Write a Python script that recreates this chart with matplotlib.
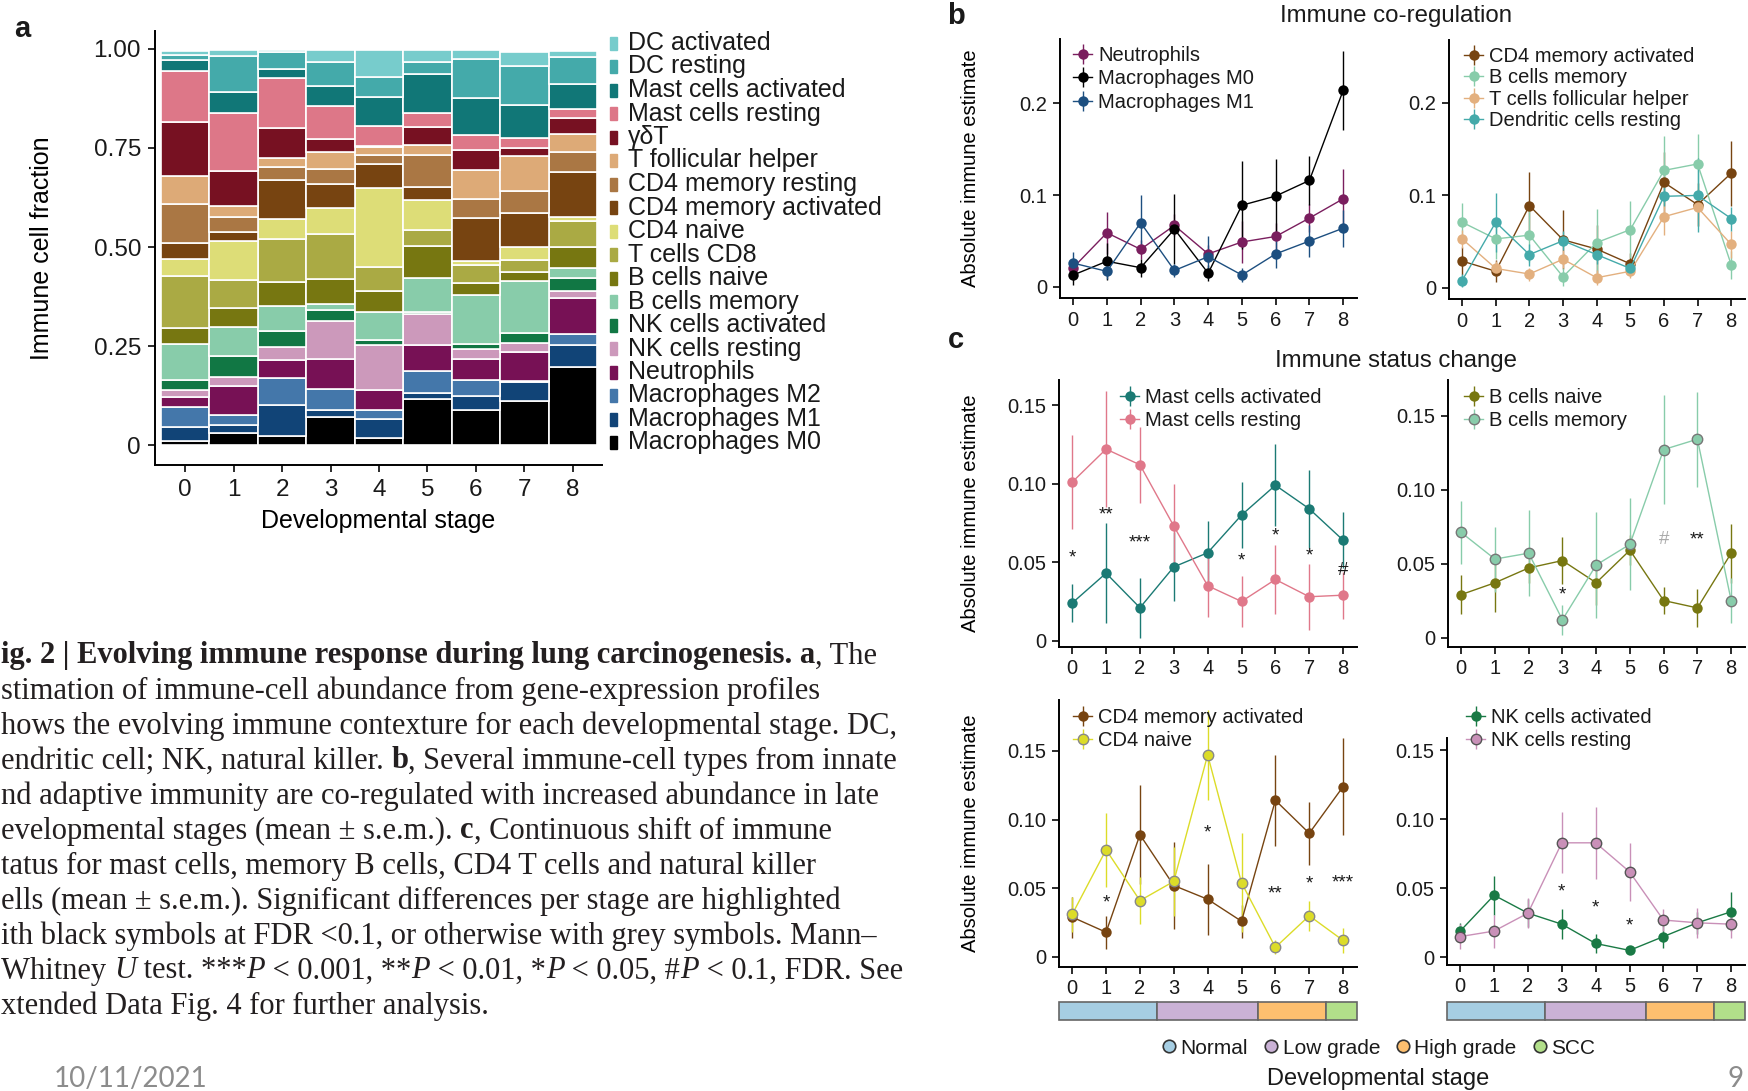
import matplotlib
matplotlib.use('Agg')
import matplotlib.pyplot as plt
from matplotlib.patches import Rectangle
from matplotlib.lines import Line2D

plt.rcParams['font.family'] = ['Liberation Sans', 'DejaVu Sans']
plt.rcParams['axes.linewidth'] = 1.4
plt.rcParams['text.color'] = '#1a1a1a'

# ---- data -------------------------------------------------------------
stages = [0, 1, 2, 3, 4, 5, 6, 7, 8]
stage_group = ['Normal'] * 3 + ['Low grade'] * 3 + ['High grade'] * 2 + ['SCC']
groups = ['Normal', 'Low grade', 'High grade', 'SCC']
group_colors = ['#a6cee3', '#cab2d6', '#fdbf6f', '#b2df8a']

# panel a: immune cell fractions per stage (bottom -> top of the stack)
mac_m0 = [0.010, 0.030, 0.022, 0.072, 0.018, 0.117, 0.090, 0.111, 0.197]
mac_m1 = [0.035, 0.021, 0.080, 0.018, 0.048, 0.014, 0.035, 0.048, 0.057]
mac_m2 = [0.052, 0.025, 0.067, 0.052, 0.024, 0.056, 0.040, 0.004, 0.027]
neutro = [0.025, 0.074, 0.046, 0.076, 0.050, 0.065, 0.053, 0.071, 0.090]
nk_rest_f = [0.018, 0.021, 0.032, 0.095, 0.114, 0.078, 0.025, 0.024, 0.019]
nk_act_f = [0.025, 0.055, 0.040, 0.029, 0.011, 0.005, 0.013, 0.024, 0.031]
b_mem_f = [0.090, 0.071, 0.065, 0.015, 0.071, 0.087, 0.124, 0.133, 0.025]
b_naive_f = [0.040, 0.049, 0.059, 0.063, 0.052, 0.080, 0.028, 0.023, 0.055]
t_cd8 = [0.132, 0.071, 0.109, 0.114, 0.061, 0.040, 0.046, 0.029, 0.064]
cd4_naive_f = [0.043, 0.098, 0.050, 0.065, 0.200, 0.077, 0.010, 0.033, 0.010]
cd4_mact_f = [0.040, 0.024, 0.098, 0.061, 0.061, 0.032, 0.109, 0.086, 0.115]
cd4_mrest = [0.098, 0.036, 0.035, 0.038, 0.023, 0.082, 0.049, 0.056, 0.049]
t_fh = [0.071, 0.028, 0.022, 0.042, 0.019, 0.025, 0.073, 0.087, 0.046]
gd_t = [0.137, 0.088, 0.076, 0.033, 0.003, 0.045, 0.051, 0.021, 0.040]
mast_rest_f = [0.129, 0.147, 0.126, 0.082, 0.050, 0.034, 0.037, 0.024, 0.023]
mast_act_f = [0.027, 0.052, 0.021, 0.052, 0.073, 0.100, 0.093, 0.084, 0.063]
dc_rest_f = [0.013, 0.093, 0.045, 0.061, 0.051, 0.031, 0.099, 0.098, 0.069]
dc_act_f = [0.010, 0.013, 0.003, 0.028, 0.069, 0.028, 0.021, 0.036, 0.015]

cell_names = ['Macrophages M0', 'Macrophages M1', 'Macrophages M2', 'Neutrophils',
              'NK cells resting', 'NK cells activated', 'B cells memory', 'B cells naive',
              'T cells CD8', 'CD4 naive', 'CD4 memory activated', 'CD4 memory resting',
              'T follicular helper', 'γδT', 'Mast cells resting', 'Mast cells activated',
              'DC resting', 'DC activated']
cell_fracs = [mac_m0, mac_m1, mac_m2, neutro, nk_rest_f, nk_act_f, b_mem_f, b_naive_f,
              t_cd8, cd4_naive_f, cd4_mact_f, cd4_mrest, t_fh, gd_t, mast_rest_f,
              mast_act_f, dc_rest_f, dc_act_f]
cell_colors = ['#000000', '#114477', '#4477aa', '#771155', '#cc99bb', '#117744',
               '#88ccaa', '#777711', '#aaaa44', '#dddd77', '#774411', '#aa7744',
               '#ddaa77', '#771122', '#dd7788', '#117777', '#44aaaa', '#77cccc']

# panel b / c: absolute immune estimates (mean and s.e.m.)
neut = [0.021, 0.059, 0.041, 0.067, 0.036, 0.049, 0.055, 0.075, 0.096]
neut_err = [0.008, 0.023, 0.010, 0.012, 0.010, 0.023, 0.015, 0.015, 0.033]
m0 = [0.013, 0.028, 0.021, 0.063, 0.015, 0.089, 0.099, 0.116, 0.214]
m0_err = [0.011, 0.020, 0.010, 0.038, 0.009, 0.048, 0.040, 0.027, 0.043]
m1 = [0.026, 0.017, 0.070, 0.018, 0.033, 0.013, 0.036, 0.050, 0.064]
m1_err = [0.012, 0.008, 0.030, 0.007, 0.023, 0.008, 0.015, 0.017, 0.020]

cd4_mact = [0.029, 0.018, 0.089, 0.052, 0.042, 0.026, 0.114, 0.090, 0.124]
cd4_mact_err = [0.015, 0.012, 0.036, 0.032, 0.026, 0.012, 0.033, 0.023, 0.035]
b_mem = [0.071, 0.053, 0.057, 0.012, 0.049, 0.063, 0.127, 0.134, 0.025]
b_mem_err = [0.021, 0.022, 0.029, 0.010, 0.036, 0.031, 0.037, 0.032, 0.015]
tfh = [0.053, 0.021, 0.015, 0.031, 0.011, 0.018, 0.077, 0.087, 0.047]
tfh_err = [0.010, 0.008, 0.007, 0.010, 0.008, 0.007, 0.020, 0.020, 0.015]
dc_rest = [0.008, 0.071, 0.036, 0.051, 0.036, 0.021, 0.099, 0.100, 0.075]
dc_rest_err = [0.007, 0.032, 0.012, 0.010, 0.010, 0.007, 0.010, 0.040, 0.013]

mast_act = [0.024, 0.043, 0.021, 0.047, 0.056, 0.080, 0.099, 0.084, 0.064]
mast_act_err = [0.012, 0.032, 0.019, 0.022, 0.020, 0.021, 0.026, 0.025, 0.018]
mast_rest = [0.101, 0.122, 0.112, 0.073, 0.035, 0.025, 0.039, 0.028, 0.029]
mast_rest_err = [0.030, 0.037, 0.024, 0.027, 0.020, 0.016, 0.022, 0.021, 0.015]
b_naive = [0.029, 0.037, 0.047, 0.052, 0.037, 0.059, 0.025, 0.020, 0.057]
b_naive_err = [0.013, 0.020, 0.010, 0.016, 0.015, 0.010, 0.009, 0.013, 0.020]
cd4_naive = [0.031, 0.078, 0.041, 0.055, 0.147, 0.054, 0.007, 0.030, 0.012]
cd4_naive_err = [0.013, 0.027, 0.017, 0.025, 0.033, 0.036, 0.005, 0.011, 0.009]
nk_act = [0.019, 0.045, 0.032, 0.024, 0.010, 0.005, 0.015, 0.025, 0.033]
nk_act_err = [0.006, 0.014, 0.010, 0.011, 0.007, 0.002, 0.008, 0.008, 0.014]
nk_rest = [0.015, 0.019, 0.032, 0.083, 0.083, 0.062, 0.027, 0.025, 0.024]
nk_rest_err = [0.009, 0.012, 0.011, 0.022, 0.026, 0.021, 0.008, 0.011, 0.010]

# significance symbols per stage ('' = none), their heights, and grey (non-FDR) ones
sig_mast = ['*', '**', '***', '', '', '*', '*', '*', '#']
sig_mast_y = [0.053, 0.080, 0.062, 0, 0, 0.051, 0.067, 0.054, 0.045]
sig_b = ['', '', '', '*', '', '', '#', '**', '']
sig_b_y = [0, 0, 0, 0.029, 0, 0, 0.066, 0.066, 0]
sig_b_grey = [6]
sig_cd4 = ['', '*', '', '', '*', '', '**', '*', '***']
sig_cd4_y = [0, 0.039, 0, 0, 0.090, 0, 0.046, 0.053, 0.054]
sig_nk = ['', '', '', '*', '*', '*', '', '', '']
sig_nk_y = [0, 0, 0, 0.047, 0.036, 0.023, 0, 0, 0]

# ---- layout helpers (pixel boxes of the 1748x1091 canvas) --------------
W, H = 1748, 1091
fig = plt.figure(figsize=(W / 100, H / 100), dpi=100)


def box(l, t, r, b):
    return [l / W, 1 - b / H, (r - l) / W, (b - t) / H]


def fx(x):
    return x / W


def fy(y):
    return 1 - y / H


def clean(ax, size):
    ax.spines[['top', 'right']].set_visible(False)
    ax.tick_params(direction='out', length=5, width=1.3, labelsize=size,
                   colors='#1a1a1a', pad=4)


# ---- panel a ------------------------------------------------------------
axa = fig.add_axes(box(155, 31, 602, 465))
bottom = [0.0] * len(stages)
for vals, col in zip(cell_fracs, cell_colors):
    axa.bar(stages, vals, width=1.0, bottom=bottom, color=col,
            edgecolor='white', linewidth=1.2)
    bottom = [b + v for b, v in zip(bottom, vals)]
axa.set_xlim(-0.62, 8.6)
axa.set_ylim(-0.05, 1.045)
axa.set_xticks(stages)
axa.set_yticks([0, 0.25, 0.5, 0.75, 1.0])
axa.set_yticklabels(['0', '0.25', '0.50', '0.75', '1.00'])
clean(axa, 17.5)
axa.tick_params(pad=5)
axa.set_ylabel('Immune cell fraction', fontsize=18)
axa.yaxis.set_label_coords(-0.226, 0.5)
axa.set_xlabel('Developmental stage', fontsize=18)
axa.xaxis.set_label_coords(0.5, -0.102)

# legend of panel a, top entry first
for i, (name, col) in enumerate(zip(cell_names[::-1], cell_colors[::-1])):
    yc = 43 + i * 23.5
    fig.patches.append(Rectangle((fx(610), fy(yc + 6.5)), 7 / W, 13 / H,
                                 transform=fig.transFigure, color=col))
    fig.text(fx(628), fy(yc), name, fontsize=18, va='center', ha='left')


# ---- panels b and c ------------------------------------------------------
def line_panel(rect, series, ylim, yticks, yticklabels, leg_xy, ylabel=False,
               sig=None, sig_y=None, sig_grey=(), spacing=0.22):
    ax = fig.add_axes(box(*rect))
    for vals, errs, col, label, edge in series:
        ax.errorbar(stages, vals, yerr=errs, fmt='-o', color=col, ms=7.5,
                    lw=1.0, elinewidth=1.0, capsize=0,
                    mec=edge if edge else col, mew=1.0 if edge else 0,
                    label=label)
    if sig:
        for s, txt, yy in zip(stages, sig, sig_y):
            if txt:
                c = '#aaaaaa' if s in sig_grey else '#1a1a1a'
                ax.text(s, yy, txt, ha='center', va='center', fontsize=13.5,
                        color=c)
    ax.set_xlim(-0.39, 8.41)
    ax.set_ylim(*ylim)
    ax.set_xticks(stages)
    ax.set_yticks(yticks)
    ax.set_yticklabels(yticklabels)
    clean(ax, 14.5)
    if ylabel:
        ax.set_ylabel('Absolute immune estimate', fontsize=14.5)
        ax.yaxis.set_label_coords(-(rect[0] - 980) / (rect[2] - rect[0]), 0.5)
    ax.legend(loc='upper left', bbox_to_anchor=(fx(leg_xy[0]), fy(leg_xy[1])),
              bbox_transform=fig.transFigure, frameon=False, borderpad=0,
              borderaxespad=0, handlelength=0.95, handletextpad=0.3,
              labelspacing=spacing, fontsize=14.5)
    return ax


ticks_b = [0, 0.1, 0.2]
labels_b = ['0', '0.1', '0.2']
ticks_c = [0, 0.05, 0.10, 0.15]
labels_c = ['0', '0.05', '0.10', '0.15']

line_panel((1060, 39, 1357, 298),
           [(neut, neut_err, '#7a1e5e', 'Neutrophils', None),
            (m0, m0_err, '#000000', 'Macrophages M0', None),
            (m1, m1_err, '#1d4f80', 'Macrophages M1', None)],
           (-0.012, 0.27), ticks_b, labels_b, (1073, 46), ylabel=True)
line_panel((1449, 40, 1745, 299),
           [(cd4_mact, cd4_mact_err, '#774411', 'CD4 memory activated', None),
            (b_mem, b_mem_err, '#88ccaa', 'B cells memory', None),
            (tfh, tfh_err, '#e3b07f', 'T cells follicular helper', None),
            (dc_rest, dc_rest_err, '#44aaaa', 'Dendritic cells resting', None)],
           (-0.012, 0.268), ticks_b, labels_b, (1464, 47), spacing=0.12)

line_panel((1059, 380, 1357, 647),
           [(mast_act, mast_act_err, '#1b7a74', 'Mast cells activated', None),
            (mast_rest, mast_rest_err, '#e0788a', 'Mast cells resting', None)],
           (-0.004, 0.166), ticks_c, labels_c, (1120, 388), ylabel=True,
           sig=sig_mast, sig_y=sig_mast_y)
line_panel((1448, 380, 1745, 647),
           [(b_naive, b_naive_err, '#777711', 'B cells naive', None),
            (b_mem, b_mem_err, '#88ccaa', 'B cells memory', '#777777')],
           (-0.0064, 0.174), ticks_c, labels_c, (1464, 388),
           sig=sig_b, sig_y=sig_b_y, sig_grey=sig_b_grey)
line_panel((1059, 700, 1357, 967),
           [(cd4_mact, cd4_mact_err, '#774411', 'CD4 memory activated', None),
            (cd4_naive, cd4_naive_err, '#dcdc28', 'CD4 naive', '#888888')],
           (-0.0073, 0.187), ticks_c, labels_c, (1073, 708), ylabel=True,
           sig=sig_cd4, sig_y=sig_cd4_y)
line_panel((1447, 738, 1745, 965),
           [(nk_act, nk_act_err, '#1a7a45', 'NK cells activated', None),
            (nk_rest, nk_rest_err, '#c990b8', 'NK cells resting', '#555555')],
           (-0.0056, 0.159), ticks_c, labels_c, (1466, 708),
           sig=sig_nk, sig_y=sig_nk_y)

# stage strips under the bottom panels
for l, r in [(1059, 1357), (1447, 1745)]:
    axs = fig.add_axes(box(l, 1002, r, 1020))
    xl = (-0.39, 8.41)
    axs.set_xlim(*xl)
    axs.set_ylim(0, 1)
    axs.axis('off')
    for g, col in zip(groups, group_colors):
        idx = [i for i, s in enumerate(stage_group) if s == g]
        left = max(min(idx) - 0.5, xl[0])
        right = min(max(idx) + 0.5, xl[1])
        axs.barh(0.5, right - left, left=left, height=1.0, color=col,
                 edgecolor='#666666', linewidth=1.2, clip_on=False)

handles = [Line2D([], [], ls='none', marker='o', ms=9, mfc=c, mec='#333333',
                  mew=1.2) for c in group_colors]
fig.legend(handles, groups, loc='center', bbox_to_anchor=(fx(1378), fy(1048)),
           ncol=4, frameon=False, fontsize=15, handlelength=0.8,
           handletextpad=0.15, columnspacing=0.7, borderpad=0)
fig.text(fx(1378), fy(1079), 'Developmental stage', fontsize=17,
         ha='center', va='center')

fig.text(fx(1396), fy(16), 'Immune co-regulation', fontsize=17.3,
         ha='center', va='center')
fig.text(fx(1396), fy(361), 'Immune status change', fontsize=17.3,
         ha='center', va='center')
fig.text(fx(22), fy(29), 'a', fontsize=21, fontweight='bold', ha='center', va='center')
fig.text(fx(956), fy(16), 'b', fontsize=21, fontweight='bold', ha='center', va='center')
fig.text(fx(956), fy(340), 'c', fontsize=21, fontweight='bold', ha='center', va='center')

# ---- caption (serif, mixed styles) -------------------------------------
renderer = fig.canvas.get_renderer()
cap_kw = dict(fontsize=22, family='Liberation Serif', color='#231f20')


def run_width(s, **kw):
    t = fig.text(0, 0, '|' + s + '|', **cap_kw, **kw)
    t0 = fig.text(0, 0, '||', **cap_kw, **kw)
    w = t.get_window_extent(renderer).width - t0.get_window_extent(renderer).width
    t.remove()
    t0.remove()
    return w


B = {'fontweight': 'bold'}
I = {'fontstyle': 'italic'}
N = {}
caption = [
    [('ig. 2 | Evolving immune response during lung carcinogenesis. a', B), (', The', N)],
    [('stimation of immune-cell abundance from gene-expression profiles', N)],
    [('hows the evolving immune contexture for each developmental stage. DC,', N)],
    [('endritic cell; NK, natural killer. ', N), ('b', B),
     (', Several immune-cell types from innate', N)],
    [('nd adaptive immunity are co-regulated with increased abundance in late', N)],
    [('evelopmental stages (mean ± s.e.m.). ', N), ('c', B),
     (', Continuous shift of immune', N)],
    [('tatus for mast cells, memory B cells, CD4 T cells and natural killer', N)],
    [('ells (mean ± s.e.m.). Significant differences per stage are highlighted', N)],
    [('ith black symbols at FDR <0.1, or otherwise with grey symbols. Mann–', N)],
    [('Whitney ', N), ('U', I), (' test. ***', N), ('P', I), (' < 0.001, **', N),
     ('P', I), (' < 0.01, *', N), ('P', I), (' < 0.05, #', N), ('P', I),
     (' < 0.1, FDR. See', N)],
    [('xtended Data Fig. 4 for further analysis.', N)],
]
for k, parts in enumerate(caption):
    x = 1.0
    y = 656 + k * 35.0
    for s, kw in parts:
        fig.text(fx(x), fy(y), s, va='center', ha='left', **cap_kw, **kw)
        x += run_width(s, **kw)

fig.text(fx(54), fy(1079), '10/11/2021', fontsize=20, family=['Lato', 'DejaVu Sans'],
         color='#8c8c8c', ha='left', va='center')
fig.text(fx(1736), fy(1079), '9', fontsize=20, family=['Lato', 'DejaVu Sans'],
         color='#8c8c8c', ha='center', va='center')

fig.savefig('out.png', dpi=100)
